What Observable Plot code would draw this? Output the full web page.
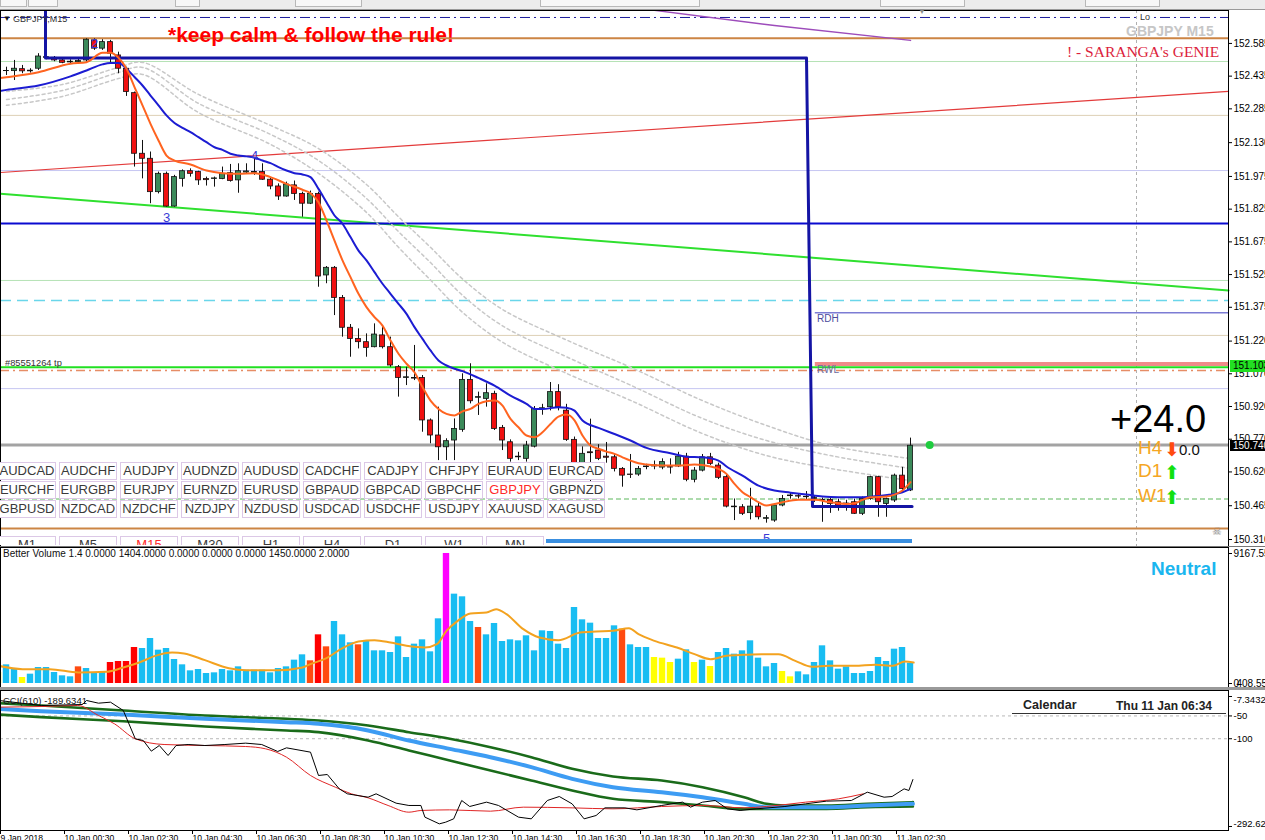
<!DOCTYPE html>
<html>
<head>
<meta charset="utf-8">
<script src="https://cdn.jsdelivr.net/npm/d3@7"></script>
<script src="https://cdn.jsdelivr.net/npm/@observablehq/plot@0.6"></script>
<style>
html,body{margin:0;padding:0;background:#fff;overflow:hidden}
#wrap{position:relative;width:1265px;height:840px;overflow:hidden;background:#fff;font-family:"Liberation Sans",Arial,sans-serif}
.t{position:absolute;white-space:nowrap}
.box{position:absolute;box-sizing:border-box}
.btn{position:absolute;box-sizing:border-box;border:1px solid #dcc8e6;background:#fff;font-size:13px;color:#3a3a3a;text-align:center;line-height:16px;height:18px;width:58px;overflow:hidden;white-space:nowrap}
</style>
</head>
<body>
<div id="wrap"></div>
<script>
// ---------------- DATA ----------------
// bar index k (15-minute bars); first bar index:
const firstBar = -1;
const opens = [
152.462,152.458,152.458,152.467,152.457,152.469,152.519,152.519,152.507,152.498,
152.499,152.507,152.599,152.561,152.591,152.530,152.469,152.357,152.079,152.056,
151.903,151.987,151.837,151.964,151.999,151.995,151.963,151.963,151.963,151.990,
151.957,151.993,151.995,151.995,151.960,151.929,151.883,151.934,151.895,151.850,
151.895,151.521,151.556,151.418,151.281,151.230,151.215,151.192,151.246,151.192,
151.100,151.051,151.051,151.051,150.856,150.787,150.733,150.764,150.813,151.042,
150.960,150.955,150.978,150.822,150.756,150.690,150.680,150.736,150.909,150.917,
150.986,150.901,150.767,150.660,150.710,150.718,150.690,150.687,150.634,150.608,
150.608,150.642,150.645,150.640,150.642,150.645,150.690,150.584,150.626,150.687,
150.649,150.596,150.458,150.458,150.431,150.461,150.405,150.397,150.466,150.509,
150.509,150.504,150.496,150.489,150.492,150.481,150.473,150.481,150.428,150.496,
150.596,150.473,150.489,150.603,150.535];
const highs = [
152.480,152.476,152.507,152.484,152.469,152.538,152.530,152.525,152.515,152.510,
152.515,152.606,152.606,152.602,152.599,152.545,152.476,152.362,152.140,152.087,
151.995,151.995,151.980,152.005,152.010,151.999,151.972,151.972,152.018,152.030,
152.033,152.033,152.056,152.033,151.969,151.941,151.949,151.954,151.903,151.908,
151.903,151.562,151.562,151.429,151.296,151.276,151.253,151.299,151.284,151.238,
151.108,151.100,151.200,151.062,150.863,150.917,150.772,150.863,151.070,151.116,
150.986,151.024,150.990,150.833,150.767,150.710,150.760,150.920,150.930,151.030,
151.020,150.930,150.780,150.735,150.862,150.745,150.755,150.700,150.640,150.700,
150.645,150.655,150.670,150.680,150.680,150.710,150.705,150.640,150.700,150.705,
150.660,150.610,150.496,150.470,150.545,150.475,150.420,150.475,150.512,150.525,
150.520,150.530,150.510,150.500,150.505,150.495,150.490,150.495,150.505,150.600,
150.600,150.500,150.610,150.641,150.775];
const lows = [
152.440,152.438,152.415,152.446,152.449,152.461,152.510,152.501,152.492,152.489,
152.492,152.499,152.553,152.553,152.495,152.446,152.342,152.018,151.964,151.850,
151.895,151.834,151.834,151.926,151.972,151.934,151.931,151.926,151.960,151.949,
151.898,151.984,151.980,151.957,151.914,151.865,151.880,151.865,151.788,151.846,
151.467,151.483,151.337,151.238,151.146,151.184,151.146,151.189,151.184,151.100,
150.963,151.016,151.039,150.802,150.749,150.672,150.672,150.672,150.802,150.932,
150.879,150.917,150.810,150.718,150.665,150.672,150.665,150.730,150.880,150.900,
150.900,150.760,150.650,150.650,150.550,150.672,150.660,150.620,150.550,150.590,
150.600,150.630,150.630,150.630,150.610,150.640,150.575,150.570,150.620,150.650,
150.585,150.455,150.397,150.420,150.400,150.400,150.385,150.389,150.460,150.495,
150.496,150.490,150.480,150.389,150.430,150.440,150.440,150.425,150.420,150.490,
150.412,150.412,150.480,150.525,150.530];
const closes = [
152.460,152.459,152.469,152.457,152.460,152.525,152.522,152.507,152.496,152.501,
152.504,152.602,152.561,152.591,152.538,152.469,152.362,152.079,152.056,151.903,
151.987,151.837,151.972,151.999,151.987,151.957,151.958,151.966,151.987,151.954,
151.999,151.998,151.992,151.960,151.929,151.883,151.938,151.895,151.850,151.895,
151.516,151.556,151.418,151.281,151.230,151.215,151.189,151.250,151.192,151.108,
151.051,151.054,151.048,150.856,150.787,150.733,150.761,150.817,151.042,150.944,
150.963,150.981,150.817,150.764,150.680,150.687,150.741,150.909,150.912,150.986,
150.917,150.767,150.660,150.703,150.706,150.680,150.685,150.634,150.603,150.606,
150.634,150.645,150.650,150.665,150.640,150.690,150.584,150.626,150.687,150.657,
150.593,150.461,150.461,150.428,150.461,150.412,150.408,150.466,150.496,150.512,
150.507,150.506,150.500,150.492,150.473,150.458,150.475,150.428,150.496,150.596,
150.481,150.496,150.603,150.542,150.740];

const volumes = [
776,1317,1011,423,658,1128,1128,776,541,470,
1175,1058,776,776,1481,1552,1552,2539,2468,3174,
2351,2468,1693,1317,893,987,705,752,987,893,
1175,940,940,940,752,1058,1175,1646,2022,1599,
3432,2586,4373,3432,2868,2727,3009,2304,2304,2186,
3291,1834,2774,3080,2233,4561,9169,6301,6113,4373,
3950,3432,4232,2962,3080,3009,3362,2304,3714,3668,
2774,2468,5360,4490,4255,3174,3174,4067,3832,2727,
2539,2539,1834,1787,1481,1716,2374,1481,1646,1199,
2186,2468,2069,2304,3009,1787,1175,1411,846,470,
823,611,1481,2657,1599,1011,1175,705,705,846,
1834,1552,2421,2539,1434];
// b = normal, r = climax down, o = churn, m = climax high, y = low volume
const volKinds = ("ybbybbbbbb" + "obbbrrrrbb" + "bbbbbbbbbb" + "bbbbbbbbbo" + "robbbobbbb" +
                  "bbbbbbmbbb" + "obbbbbbbbb" + "bbbbbbbbob" + "bbyyybbyby" + "bbbbbbbbyy" +
                  "bbbbbbbbbbbbbbb").split("");
const volMA = [[-1,1246],[2,1011],[5.4,1011],[9,776],[12.5,823],[14.6,1128],[16.6,1481],[18.6,1951],
 [20.7,2186],[22.2,2116],[24.8,1646],[27.8,1081],[30,940],[34,940],[37,1128],[38,1364],[40,1787],
 [42,2492],[44,2962],[46,3056],[48,2892],[50,2657],[52.3,2539],[53.8,2774],[55,3715],[56.4,4420],
 [58,4937],[60,5008],[61.2,5243],[62.5,4890],[64.6,3832],[66.6,3244],[69,3056],[71.7,3597],
 [73.7,3668],[75.8,3715],[77.8,3903],[79,3480],[81,3009],[83.8,2539],[86,2069],[88,1716],[90,1951],
 [92.2,2022],[94.4,2069],[96.5,2069],[98.6,1599],[100.7,1175],[102.8,1246],[106,1246],[108.6,1317],
 [110.8,1246],[112.3,1552],[113.4,1481]];

const fastMA = [[-1,152.425],[0,152.430],[4,152.453],[8,152.492],[10,152.499],[12,152.542],[13,152.542],
 [14,152.519],[15,152.469],[16,152.385],[17,152.301],[18,152.216],[19,152.140],[20,152.071],[21,152.048],
 [23,152.030],[25,152.002],[27,151.990],[29,151.987],[31,151.990],[33,151.972],[35,151.941],[37,151.914],
 [38,151.898],[39,151.857],[40,151.773],[41,151.681],[42,151.590],[43,151.513],[44,151.437],[45,151.376],
 [46,151.330],[47,151.291],[48,151.223],[49,151.162],[50,151.116],[51,151.077],[52,151.009],[53,150.947],
 [54,150.909],[55,150.886],[56,150.879],[57,150.898],[58,150.909],[59,150.932],[60,150.944],[61,150.947],
 [62,150.924],[63,150.863],[64,150.825],[65,150.787],[66,150.779],[67,150.802],[68,150.840],[69,150.874],
 [70,150.883],[71,150.856],[72,150.787],[73,150.741],[74,150.726],[75,150.713],[76,150.703],[77,150.687],
 [78,150.672],[79,150.660],[80,150.654],[82,150.649],[84,150.649],[86,150.654],[88,150.645],[89,150.634],
 [90,150.611],[91,150.565],[92,150.527],[93,150.504],[94,150.481],[95,150.466],[96,150.473],[97,150.481],
 [99,150.492],[101,150.492],[103,150.481],[105,150.473],[106,150.476],[107,150.492],[108,150.504],
 [110,150.507],[111,150.516],[112,150.535],[113,150.573]];
const slowMA = [[-1,152.366],[0,152.372],[4,152.392],[8,152.434],[10,152.461],[12,152.489],[13,152.495],
 [14,152.495],[15,152.469],[16,152.431],[17,152.392],[18,152.346],[19,152.301],[20,152.255],[21,152.220],
 [22,152.198],[23,152.178],[24,152.155],[25,152.132],[26,152.109],[27,152.097],[28,152.079],[29,152.071],
 [30,152.067],[31,152.061],[32,152.048],[33,152.036],[34,152.018],[35,152.002],[36,151.990],[37,151.984],
 [38,151.972],[39,151.918],[40,151.857],[41,151.796],[42,151.758],[43,151.697],[44,151.635],[45,151.590],
 [46,151.536],[47,151.483],[48,151.437],[49,151.391],[50,151.345],[51,151.284],[52,151.230],[53,151.177],
 [54,151.131],[55,151.108],[56,151.093],[57,151.082],[59,151.051],[61,151.016],[63,150.970],[65,150.932],
 [66,150.909],[67,150.908],[69,150.917],[70,150.914],[71,150.901],[72,150.856],[74,150.822],[76,150.794],
 [78,150.764],[80,150.730],[83,150.706],[85,150.690],[87,150.687],[89,150.672],[90,150.645],[92,150.603],
 [94,150.557],[96,150.535],[98,150.525],[100,150.516],[102,150.507],[104,150.504],[107,150.504],
 [109,150.510],[111,150.519],[112,150.527],[113,150.542]];
// three dashed envelope lines sampled at these bars
const envBars = [0,7,14,17,24,33,39,45,49,53,57,62,70,78,87,95,103,113];
const envUpper = [152.365,152.397,152.475,152.498,152.351,152.209,152.103,151.938,151.790,151.650,151.505,151.365,151.225,151.100,150.947,150.833,150.741,150.681];
const envMiddle = [152.328,152.369,152.452,152.475,152.310,152.168,152.048,151.874,151.722,151.580,151.430,151.290,151.148,151.018,150.865,150.764,150.695,150.636];
const envLower = [152.301,152.342,152.424,152.443,152.268,152.122,151.989,151.810,151.650,151.500,151.352,151.215,151.072,150.948,150.796,150.695,150.636,150.580];

// horizontal levels (price)
const levelLo = 152.704, levelBrownTop = 152.609, levelGreenThinTop = 152.502, levelTan1 = 152.255;
const levelLavender1 = 152.002, levelBlue = 151.759, levelGreenThin2 = 151.498, levelCyan = 151.406;
const levelRDH = 151.350, levelTan2 = 151.246, levelRWL = 151.115, levelGreen = 151.100;
const levelSalmon = 151.085, levelLavender2 = 151.002, levelGray = 150.743, levelGreenDash = 150.496;
const levelBrownBottom = 150.360;
const rangeStartBar = 101.1;   // RDH / RWL start
const nowBar = 141.25;          // vertical dashed marker
// trend lines [bar, price]
const redTrend = [[-0.75,151.993],[152.75,152.365]];
const greenTrend = [[-0.75,151.896],[152.75,151.452]];
const purpleLine = [[80.25,152.74],[96,152.667],[113,152.599]];
const stepLine = [[4.875,152.74],[4.875,152.518],[100,152.518],[100.75,150.461],[113.2,150.461]];
const waveBars = [11,20,31,95], wavePrices = [152.585,151.787,152.07,150.314], waveTexts = ["2","3","4","5"];
const lastTick = [[115.4,150.743]];

const priceTicks = [152.585,152.435,152.285,152.130,151.975,151.825,151.675,151.525,151.375,151.220,151.070,150.920,150.770,150.620,150.465,150.310];

// CCI panel series [bar, value]
const cciMain = [[-1,-16],[4.35,-27.1],[9.5,-24.9],[10,-16.1],[11.5,-22],[13,-19.8],[14.6,-38.1],[16.1,-100.2],
 [17.1,-103.9],[18.1,-127.3],[19.1,-114.9],[20.2,-136.8],[21.2,-114.9],[22.7,-112.7],[24.8,-114.9],[27.3,-112.7],
 [29.9,-109.7],[31.9,-112.7],[33.9,-128],[35,-120],[38,-129.5],[39,-180.7],[40.1,-178.5],[41.6,-210],
 [42.6,-220.9],[45.2,-228.3],[46.2,-220.9],[48.7,-241.4],[50.3,-246.5],[51.8,-246.5],[52.3,-272.1],
 [54.1,-286.8],[54.9,-283.1],[55.9,-275.8],[56.9,-235.6],[57.9,-248.7],[60,-239.2],[61.5,-246.5],[64,-272.1],
 [65.6,-275.8],[67.6,-235.6],[69.1,-226.8],[70.7,-242.9],[72.2,-275.8],[73.7,-268.5],[74.8,-251.7],
 [77.3,-251.7],[78.8,-256.1],[81.9,-246.5],[84.5,-239.2],[85.5,-250.2],[87,-239.2],[88.6,-235.6],
 [90.1,-253.9],[91.7,-257.5],[93.7,-253.9],[97.3,-248.7],[99.9,-242.9],[102.5,-237],[105.6,-235.6],
 [107.6,-217.3],[109.7,-228.3],[110.7,-226.8],[112.2,-210],[112.8,-213.6],[113.3,-189.6]];
const cciSignal = [[-1,-30.7],[4.35,-29.3],[8.9,-27.1],[11.5,-49],[13.5,-67.3],[16.1,-100.2],[19.7,-112.7],
 [24.8,-114.9],[29.9,-117.1],[32.4,-122.2],[35,-140.5],[38,-180.7],[41.1,-206.3],[43.1,-220.9],[45.2,-229.7],
 [47.7,-246.5],[50.3,-261.2],[51.8,-257.5],[55.4,-256.1],[60.5,-259],[64.6,-250.2],[70.7,-251.7],
 [75.8,-253.9],[81.9,-248.7],[87,-246.5],[92.2,-251.7],[95,-248.7],[99.9,-239.2],[104,-231.9],[107.1,-220.9]];
const cciMid = [[-1,-34.4],[4.35,-39.5],[14.6,-46.8],[24.8,-56.3],[35,-63.7],[39,-67.3],[45.2,-81.9],
 [50.3,-103.9],[55.4,-122.2],[60.5,-140.5],[65.6,-162.4],[70.7,-188],[75.8,-206.3],[81.9,-217.3],
 [87,-228.3],[92.2,-242.9],[95,-250.2],[97.3,-250.2],[102.5,-250.2],[107.6,-246.5],[113.3,-242.9]];
const cciUpper = [[-1,-22],[4.35,-27.1],[14.6,-38.1],[24.8,-49],[35,-56.3],[39,-60],[45.2,-71],[50.3,-85.6],
 [55.4,-100.2],[60.5,-118.5],[65.6,-140.5],[70.7,-166.1],[75.8,-182.9],[81.9,-191.7],[87,-206.3],
 [92.2,-228.3],[95,-242.9],[97.3,-246.5],[102.5,-246.5],[107.6,-242.9],[113.3,-239.2]];
const cciLower = [[-1,-46.8],[4.35,-52.7],[14.6,-61.5],[24.8,-73.2],[35,-81.9],[39,-85.6],[45.2,-103.9],
 [50.3,-125.8],[55.4,-147.8],[60.5,-169.7],[65.6,-191.7],[70.7,-213.6],[75.8,-231.9],[81.9,-239.2],
 [87,-246.5],[92.2,-253.9],[95,-253.9],[102.5,-253.9],[107.6,-250.2],[113.3,-248.7]];
const cciTicks = [-7.3432,-50,-100,-292.62];
const cciTickLabels = ["-7.3432","-50","-100","-292.62"];
const cciLevels = [-50,-100];

const volTop = 9167.55;
const timeTicks = [-1,7,15,23,31,39,47,55,63,71,79,87,95,103,111];
const timeLabels = ["9 Jan 2018","10 Jan 00:30","10 Jan 02:30","10 Jan 04:30","10 Jan 06:30","10 Jan 08:30",
 "10 Jan 10:30","10 Jan 12:30","10 Jan 14:30","10 Jan 16:30","10 Jan 18:30","10 Jan 20:30","10 Jan 22:30",
 "11 Jan 00:30","11 Jan 02:30"];

const symbols = [
 ["AUDCAD","AUDCHF","AUDJPY","AUDNZD","AUDUSD","CADCHF","CADJPY","CHFJPY","EURAUD","EURCAD"],
 ["EURCHF","EURGBP","EURJPY","EURNZD","EURUSD","GBPAUD","GBPCAD","GBPCHF","GBPJPY","GBPNZD"],
 ["GBPUSD","NZDCAD","NZDCHF","NZDJPY","NZDUSD","USDCAD","USDCHF","USDJPY","XAUUSD","XAGUSD"]];
const timeframes = ["M1","M5","M15","M30","H1","H4","D1","W1","MN"];

// ---------------- DRAWING ----------------
const wrap = document.getElementById("wrap");
const candles = opens.map((o, i) => ({k: i + firstBar, o, h: highs[i], l: lows[i], c: closes[i]}));
const volBars = volumes.map((v, i) => ({k: i + firstBar, v, kind: volKinds[i]}));
const pairs = (ks, vs) => ks.map((k, i) => [k, vs[i]]);
const X = d => d[0], Y = d => d[1];
const xDom = [-0.75, 152.75];
const font = "Liberation Sans, Arial, sans-serif";
const common = {
  width: 1265, marginLeft: 0, marginRight: 37, marginTop: 0,
  x: {domain: xDom, axis: null},
  color: {type: "identity"},
  style: {background: "#fff", color: "#000", fontFamily: font, fontSize: "10px"}
};
function place(svg, top) {
  svg.style.position = "absolute"; svg.style.left = "0px"; svg.style.top = top + "px"; svg.style.maxWidth = "none";
  wrap.appendChild(svg);
}
function box(x, y, w, h, css) { const d = document.createElement("div"); d.className = "box";
  Object.assign(d.style, {left: x+"px", top: y+"px", width: w+"px", height: h+"px"}, css); wrap.appendChild(d); return d; }
function txt(s, x, base, size, css) { const d = document.createElement("div"); d.className = "t"; d.textContent = s;
  Object.assign(d.style, {left: x+"px", top: (base - 0.86*size)+"px", fontSize: size+"px", lineHeight: size+"px"}, css || {});
  wrap.appendChild(d); return d; }

// toolbar strip
box(0, 0, 1265, 10, {background: "#ececec", borderBottom: "1px solid #9a9a9a"});
[[0,27],[28,58],[175,200],[295,362],[540,700],[880,965],[1085,1160]].forEach(([a,b]) =>
  box(a, -6, b - a, 13, {border: "1px solid #b8b8b8", background: "#f7f7f7"}));

const main = Plot.plot({
  ...common, height: 536, marginBottom: 0,
  y: {domain: [150.278, 152.736], axis: null},
  marks: [
    Plot.ruleX([nowBar], {stroke: "#b0b0b0", strokeDasharray: "3,3"}),
    Plot.ruleY([levelGreenThinTop, levelGreenThin2], {stroke: "#b5e2b5"}),
    Plot.ruleY([levelTan1, levelTan2], {stroke: "#ddd0b6"}),
    Plot.ruleY([levelLavender1, levelLavender2], {stroke: "#c6c6f2"}),
    Plot.ruleY([levelCyan], {stroke: "#6ad6ea", strokeWidth: 1.6, strokeDasharray: "11,6"}),
    Plot.ruleY([levelLo], {stroke: "#1b1b9c", strokeDasharray: "10,4,2,4"}),
    Plot.ruleY([levelBrownTop, levelBrownBottom], {stroke: "#cc8544", strokeWidth: 2}),
    Plot.ruleY([levelGreenDash], {stroke: "#93cf93", strokeWidth: 1.5, strokeDasharray: "5,3"}),
    Plot.line(redTrend, {x: X, y: Y, stroke: "#e33b3b", strokeWidth: 1.2}),
    Plot.line(greenTrend, {x: X, y: Y, stroke: "#2fe02f", strokeWidth: 2}),
    Plot.line(purpleLine, {x: X, y: Y, stroke: "#9d4cbb", strokeWidth: 1.5}),
    Plot.ruleY([levelBlue], {stroke: "#0a0ad0", strokeWidth: 2}),
    Plot.ruleY([levelRDH], {x1: rangeStartBar, x2: xDom[1], stroke: "#7c7cd4", strokeWidth: 1.5}),
    Plot.ruleY([levelRWL], {x1: rangeStartBar, x2: xDom[1], stroke: "#f08a8a", strokeWidth: 4}),
    Plot.ruleY([levelGreen], {stroke: "#22e022", strokeWidth: 2}),
    Plot.ruleY([levelSalmon], {stroke: "#e68d66", strokeWidth: 1.5, strokeDasharray: "9,4,2,4"}),
    Plot.ruleY([levelGray], {stroke: "#a3a3a3", strokeWidth: 3}),
    Plot.line(pairs(envBars, envUpper), {x: X, y: Y, stroke: "#c8c8c8", strokeDasharray: "3,3", curve: "catmull-rom"}),
    Plot.line(pairs(envBars, envMiddle), {x: X, y: Y, stroke: "#c8c8c8", strokeDasharray: "3,3", curve: "catmull-rom"}),
    Plot.line(pairs(envBars, envLower), {x: X, y: Y, stroke: "#c8c8c8", strokeDasharray: "3,3", curve: "catmull-rom"}),
    Plot.ruleX(candles, {x: "k", y1: "l", y2: "h", stroke: "#111", strokeWidth: 1}),
    Plot.rect(candles, {x1: d => d.k - 0.32, x2: d => d.k + 0.32, y1: "o", y2: "c",
      fill: d => d.c >= d.o ? "#3b8a5a" : "#f01010", stroke: "#111", strokeWidth: 0.8}),
    Plot.line(stepLine, {x: X, y: Y, stroke: "#1414a4", strokeWidth: 3}),
    Plot.line(slowMA, {x: X, y: Y, stroke: "#1c1cd2", strokeWidth: 2, curve: "monotone-x"}),
    Plot.line(fastMA, {x: X, y: Y, stroke: "#ff6420", strokeWidth: 2, curve: "monotone-x"}),
    Plot.text(waveBars.map((k, i) => ({k, p: wavePrices[i], t: waveTexts[i]})),
      {x: "k", y: "p", text: "t", fill: "#3a3ad6", fontSize: 13}),
    Plot.dot(lastTick, {x: X, y: Y, r: 4, fill: "#1fcc3f", stroke: "none"}),
    Plot.axisY(priceTicks, {anchor: "right", tickSize: 3, tickPadding: 2, tickFormat: d => d.toFixed(3), label: null, fontSize: 10}),
    Plot.frame({stroke: "#000"})
  ]
});
place(main, 10);

// separators
box(0, 546, 1265, 1, {background: "#777"});
box(0, 687, 1265, 3, {background: "#9a9a9a"});

const vol = Plot.plot({
  ...common, height: 140, marginBottom: 0,
  y: {domain: [-282, 9591], axis: null},
  marks: [
    Plot.rect(volBars, {x1: d => d.k - 0.4, x2: d => d.k + 0.4, y1: 0, y2: "v",
      fill: d => ({b: "#18bdf2", r: "#ff0000", o: "#ff4a10", m: "#ff00ff", y: "#ffff00"})[d.kind]}),
    Plot.line(volMA, {x: X, y: Y, stroke: "#f3a21f", strokeWidth: 2, curve: "monotone-x"}),
    Plot.axisY([volTop, 0], {anchor: "right", tickSize: 3, tickPadding: 2, tickFormat: d => d === 0 ? "0" : "9167.55", label: null, fontSize: 10}),
    Plot.text([0], {y: d => d, frameAnchor: "right", dx: 8, textAnchor: "start", text: () => "408.55", fontSize: 10}),
    Plot.frame({stroke: "#000"})
  ]
});
place(vol, 547);

const cci = Plot.plot({
  ...common, height: 160, marginBottom: 20,
  y: {domain: [-301.4, 5.82], axis: null},
  marks: [
    Plot.ruleY(cciLevels, {stroke: "#b8b8b8", strokeDasharray: "3,3"}),
    Plot.line(cciUpper, {x: X, y: Y, stroke: "#1a6b1a", strokeWidth: 2.6, curve: "monotone-x"}),
    Plot.line(cciLower, {x: X, y: Y, stroke: "#1a6b1a", strokeWidth: 2.6, curve: "monotone-x"}),
    Plot.line(cciMid, {x: X, y: Y, stroke: "#3d9cf3", strokeWidth: 4, curve: "monotone-x"}),
    Plot.line(cciSignal, {x: X, y: Y, stroke: "#e02626", strokeWidth: 1, curve: "monotone-x"}),
    Plot.line(cciMain, {x: X, y: Y, stroke: "#000", strokeWidth: 1}),
    Plot.axisY(cciTicks, {anchor: "right", tickSize: 3, tickFormat: () => "", label: null}),
    Plot.text([cciTicks[0]], {y: d => d, frameAnchor: "right", dx: 5, dy: 3, textAnchor: "start", text: () => cciTickLabels[0], fontSize: 9.5}),
    Plot.text(cciTicks.slice(1, 3), {y: d => d, frameAnchor: "right", dx: 5, textAnchor: "start", text: d => cciTickLabels[cciTicks.indexOf(d)], fontSize: 9.5}),
    Plot.text([cciTicks[3]], {y: d => d, frameAnchor: "right", dx: 5, dy: -3, textAnchor: "start", text: () => cciTickLabels[3], fontSize: 9.5}),
    Plot.axisX(timeTicks, {anchor: "bottom", tickSize: 4, tickPadding: 0, textAnchor: "start", dx: 2,
      tickFormat: d => timeLabels[timeTicks.indexOf(d)], label: null, fontSize: 8.6}),
    Plot.frame({stroke: "#000"})
  ]
});
place(cci, 690);

// ---------- overlays: texts, buttons ----------
txt("▼", 3, 22, 8, {color: "#111"});
txt("GBPJPY,M15", 13, 23, 9, {color: "#333"});
txt("*keep calm & follow the rule!", 168, 42, 21, {color: "#ff0000", fontWeight: "bold"});
txt("GBPJPY M15", 1126, 36, 14, {color: "#c6c6c6", fontWeight: "bold"});
txt("! - SARANGA's GENIE", 1067, 57, 15.5, {color: "#dc1e3c", fontFamily: "Liberation Serif, Times New Roman, serif"});
txt("Lo", 1139, 21, 9, {color: "#333", background: "#fff", padding: "0 1px"});
txt("▼", 918, 15, 8, {color: "#8a8a8a"});
txt("#85551264 tp", 5, 367, 9.3, {color: "#333"});
txt("RDH", 817, 323, 10, {color: "#4b4b9c"});
txt("RWL", 817, 374, 10, {color: "#6a6aa0"});
txt("+24.0", 1110, 433, 38, {color: "#000"});
txt("H4", 1138, 454, 19, {color: "#f5a623"});
txt("⬇", 1164, 456, 19, {color: "#ff4a10", fontFamily: "DejaVu Sans"});
txt("0.0", 1179, 455, 15, {color: "#111"});
txt("D1", 1138, 477, 19, {color: "#f5a623"});
txt("⬆", 1164, 479, 19, {color: "#11e011", fontFamily: "DejaVu Sans"});
txt("W1", 1138, 502, 19, {color: "#f5a623"});
txt("⬆", 1164, 504, 19, {color: "#11e011", fontFamily: "DejaVu Sans"});
txt("☠", 1212, 535, 11, {color: "#8a8a8a", fontFamily: "DejaVu Sans"});
// price label boxes on the axis
const g = box(1230, 360, 40, 12, {background: "#22e022"}); g.textContent = "151.103";
Object.assign(g.style, {fontSize: "10px", lineHeight: "12px", paddingLeft: "3px", color: "#000"});
const b = box(1230, 440, 40, 11, {background: "#000"}); b.textContent = "150.740";
Object.assign(b.style, {fontSize: "10px", lineHeight: "11px", paddingLeft: "3px", color: "#fff"});

// symbol buttons
symbols.forEach((row, r) => row.forEach((s, c) => {
  const d = document.createElement("div"); d.className = "btn"; d.textContent = s;
  d.style.left = (-2 + 61 * c) + "px"; d.style.top = (462 + 19 * r) + "px";
  if (s === "GBPJPY") d.style.color = "#ff2a2a";
  wrap.appendChild(d);
}));
// timeframe row (clipped by the panel bottom)
const tfClip = box(0, 535, 1228, 10, {overflow: "hidden"});
timeframes.forEach((s, c) => {
  const d = document.createElement("div"); d.className = "btn"; d.textContent = s;
  d.style.left = (-2 + 61 * c) + "px"; d.style.top = "1px";
  if (s === "M15") d.style.color = "#ff2a2a";
  tfClip.appendChild(d);
});
box(546, 539, 366, 4, {background: "#3a8fe0"});

// volume & cci captions
txt("Better Volume 1.4 0.0000 1404.0000 0.0000 0.0000 0.0000 1450.0000 2.0000", 3, 558, 10, {color: "#111"});
txt("Neutral", 1151, 575, 19, {color: "#1ab6ef", fontWeight: "bold"});
txt("CCI(610) -189.6341", 3, 704, 9.5, {color: "#111"});
txt("Calendar", 1023, 710, 12.5, {color: "#222", fontWeight: "bold"});
txt("Thu 11 Jan 06:34", 1116, 710, 12, {color: "#222", fontWeight: "bold"});
box(1012, 713, 214, 1, {background: "#333"});
</script>
</body>
</html>
